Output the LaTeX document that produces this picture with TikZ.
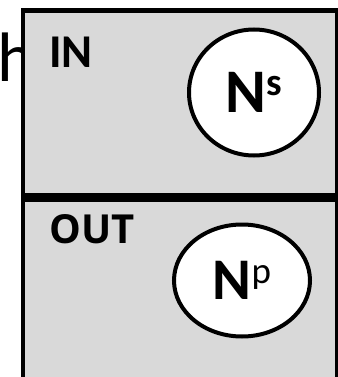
\documentclass[tikz,border=0pt]{standalone}
\usepackage{fontspec}
\setmainfont{Carlito}
\newfontfamily\opensans{Open Sans}
\usetikzlibrary{shapes.geometric}

\begin{document}
\begin{tikzpicture}[x=1pt,y=-1pt,
    compart/.style={draw,fill=black!15,line width=4.8pt,inner sep=0pt,
      minimum width=314.5pt,anchor=north west},
    bubble/.style={ellipse,draw,fill=white,line width=4pt,inner sep=0pt},
    tag/.style={anchor=base west,inner sep=0pt}]
  \useasboundingbox (0,0) rectangle (337,377);
  % letter that sticks out behind the box
  \node[tag,font=\fontsize{70}{70}\selectfont](h)at(-3,82){h};
  % the two compartments
  \node[compart,minimum height=184pt](inbox)at(20.5,8.5){};
  \node[compart,minimum height=183.5pt](outbox)at(inbox.south west){};
  \node[tag,font=\bfseries\fontsize{47}{47}\selectfont](in)at(49,67.5){IN};
  \node[tag,font=\opensans\bfseries\fontsize{40}{40}\selectfont](out)at(49.5,243.5){OUT};
  % the sets
  \node[bubble,minimum width=130pt,minimum height=126pt,
    font=\bfseries\fontsize{62}{62}\selectfont](ns)at(254,92.5)
    {N{\fontsize{39}{39}\selectfont\raisebox{17pt}{s}}};
  \node[bubble,minimum width=136pt,minimum height=112pt,
    font=\bfseries\fontsize{59}{59}\selectfont](np)at(242,280.5)
    {N{\mdseries\fontsize{37}{37}\selectfont\raisebox{16pt}{p}}};
\end{tikzpicture}
\end{document}
